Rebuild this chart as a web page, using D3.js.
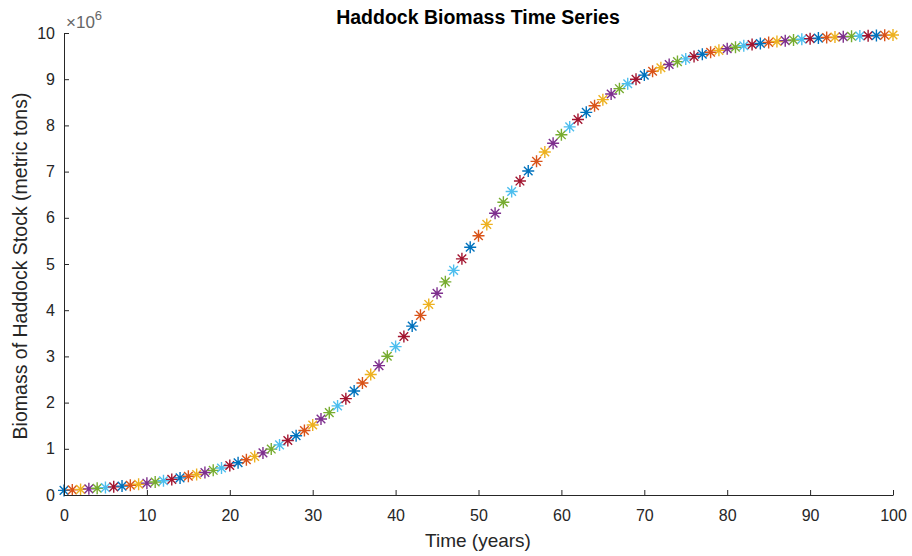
<!DOCTYPE html>
<html>
<head>
<meta charset="utf-8">
<script src="https://cdn.jsdelivr.net/npm/d3@7"></script>
<style>
  body { margin: 0; background: #fff; }
  svg text { font-family: "Liberation Sans", Arial, sans-serif; fill: #262626; }
</style>
</head>
<body>
<div id="chart"></div>
<script>
// Biomass, in millions of metric tons, one value per year 0..100
const biomass = [
  0.100, 0.110, 0.121, 0.133, 0.146, 0.160, 0.176, 0.193, 0.212, 0.233,
  0.256, 0.281, 0.308, 0.338, 0.370, 0.406, 0.445, 0.487, 0.534, 0.584,
  0.639, 0.699, 0.764, 0.835, 0.911, 0.994, 1.084, 1.180, 1.284, 1.396,
  1.516, 1.645, 1.783, 1.929, 2.085, 2.250, 2.424, 2.608, 2.801, 3.002,
  3.212, 3.430, 3.656, 3.888, 4.125, 4.368, 4.614, 4.862, 5.112, 5.362,
  5.610, 5.857, 6.099, 6.337, 6.569, 6.795, 7.013, 7.222, 7.423, 7.614,
  7.796, 7.968, 8.129, 8.282, 8.424, 8.557, 8.680, 8.795, 8.901, 8.999,
  9.089, 9.171, 9.247, 9.317, 9.381, 9.439, 9.492, 9.540, 9.584, 9.624,
  9.660, 9.693, 9.723, 9.750, 9.774, 9.796, 9.816, 9.834, 9.850, 9.865,
  9.878, 9.890, 9.901, 9.911, 9.920, 9.928, 9.935, 9.941, 9.947, 9.953,
  9.957
];
const years = biomass.map((_, i) => i);
const xTicks = [0, 10, 20, 30, 40, 50, 60, 70, 80, 90, 100];
const yTicks = [0, 1, 2, 3, 4, 5, 6, 7, 8, 9, 10];
const colorOrder = ["#0072BD", "#D95319", "#EDB120", "#7E2F8E", "#77AC30", "#4DBEEE", "#A2142F"];

const W = 912, H = 556;
const svg = d3.select("#chart").append("svg").attr("width", W).attr("height", H);

const x = d3.scaleLinear().domain([0, 100]).range([64, 893]);
const y = d3.scaleLinear().domain([0, 10]).range([495, 33]);

// asterisk marker
const r = 6, rd = 4.3;
const star = `M${-r},0H${r}M0,${-r}V${r}M${-rd},${-rd}L${rd},${rd}M${-rd},${rd}L${rd},${-rd}`;

svg.append("g").selectAll("path")
  .data(years)
  .enter()
  .append("path")
  .attr("d", star)
  .attr("transform", d => `translate(${x(d)},${y(biomass[d])})`)
  .attr("fill", "none")
  .attr("stroke", d => colorOrder[d % colorOrder.length])
  .attr("stroke-width", 1.4);

// axes, ticks pointing inward like MATLAB
const xAxis = svg.append("g").attr("transform", `translate(0,${y(0)})`)
  .call(d3.axisBottom(x).tickValues(xTicks).tickSizeInner(-5).tickSizeOuter(0).tickPadding(15));
const yAxis = svg.append("g").attr("transform", `translate(${x(0)},0)`)
  .call(d3.axisLeft(y).tickValues(yTicks).tickSizeInner(-5).tickSizeOuter(0).tickPadding(9));

[xAxis, yAxis].forEach(a => {
  a.select(".domain").attr("stroke", "#262626");
  a.selectAll(".tick line").attr("stroke", "#262626");
  a.selectAll(".tick text").attr("font-size", 16).attr("fill", "#333");
});

// exponent label
svg.append("text")
  .attr("x", 66).attr("y", 28)
  .attr("font-size", 17)
  .style("fill", "#666")
  .html('×10<tspan dy="-8" font-size="13">6</tspan>');

svg.append("text")
  .attr("x", 478).attr("y", 24)
  .attr("text-anchor", "middle")
  .attr("font-size", 19.5)
  .attr("font-weight", "bold")
  .style("fill", "#000")
  .text("Haddock Biomass Time Series");

svg.append("text")
  .attr("x", 478).attr("y", 547)
  .attr("text-anchor", "middle")
  .attr("font-size", 19)
  .text("Time (years)");

svg.append("text")
  .attr("transform", `translate(27,${y(5) + 2}) rotate(-90)`)
  .attr("text-anchor", "middle")
  .attr("font-size", 19.5)
  .text("Biomass of Haddock Stock (metric tons)");
</script>
</body>
</html>
